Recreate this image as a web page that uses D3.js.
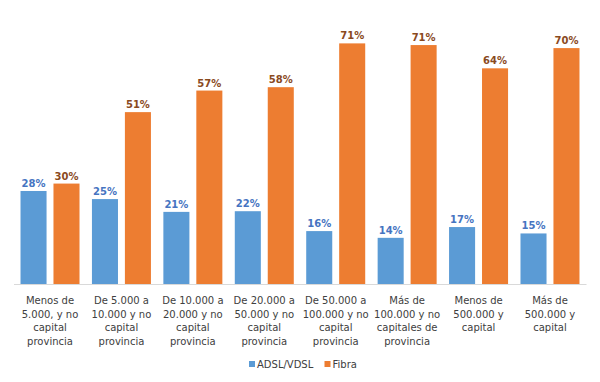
<!DOCTYPE html>
<html>
<head>
<meta charset="utf-8">
<script src="https://cdn.jsdelivr.net/npm/d3@7"></script>
<style>
  html, body { margin: 0; padding: 0; background: #ffffff; }
  svg { display: block; }
</style>
</head>
<body>
<svg id="chart" width="600" height="382"></svg>
<script>
// ---- Data ----
const categories = [
  ["Menos de", "5.000, y no", "capital", "provincia"],
  ["De 5.000 a", "10.000 y no", "capital", "provincia"],
  ["De 10.000 a", "20.000 y no", "capital", "provincia"],
  ["De 20.000 a", "50.000 y no", "capital", "provincia"],
  ["De 50.000 a", "100.000 y no", "capital", "provincia"],
  ["Más de", "100.000 y no", "capitales de", "provincia"],
  ["Menos de", "500.000 y", "capital"],
  ["Más de", "500.000 y", "capital"]
];
const seriesNames = ["ADSL/VDSL", "Fibra"];
const adslValues  = [27.6, 25.2, 21.4, 21.6, 15.7, 13.7, 16.9, 15.0];
const fibraValues = [29.8, 51.0, 57.4, 58.4, 71.4, 70.9, 64.0, 70.0];
const barColors   = ["#5B9BD5", "#ED7D31"];
const labelColors = ["#4674C1", "#8A4A1E"];

// ---- Layout ----
const svg = d3.select("#chart");
const baseline = 284;
const keys = categories.map((c, i) => "c" + i);

const x0 = d3.scaleBand().domain(keys).range([14.3, 585.7])
  .paddingInner(0.174).paddingOuter(0.087);
const x1 = d3.scaleBand().domain(seriesNames).range([0, x0.bandwidth()])
  .paddingInner(0.21).paddingOuter(0);
const y = d3.scaleLinear().domain([0, 80]).range([baseline, baseline - 80 * 3.37]);

const seriesData = [adslValues, fibraValues];
const fmt = v => d3.format(".0f")(v) + "%";

// bars
seriesNames.forEach((s, si) => {
  const g = svg.append("g");
  g.selectAll("rect").data(seriesData[si]).join("rect")
    .attr("x", (d, i) => x0(keys[i]) + x1(s))
    .attr("y", d => y(d))
    .attr("width", x1.bandwidth())
    .attr("height", d => y(0) - y(d))
    .attr("fill", barColors[si]);
  g.selectAll("text").data(seriesData[si]).join("text")
    .attr("x", (d, i) => x0(keys[i]) + x1(s) + x1.bandwidth() / 2)
    .attr("y", d => y(d) - 4)
    .attr("text-anchor", "middle")
    .attr("font-family", "DejaVu Sans, Verdana, sans-serif")
    .attr("font-size", "10px")
    .attr("font-weight", "bold")
    .attr("fill", labelColors[si])
    .text(d => fmt(d));
});

// axis line
const xAxis = d3.axisBottom(x0).tickSize(0).tickFormat("");
const axG = svg.append("g").attr("transform", `translate(0,${baseline})`).call(xAxis);
axG.select(".domain").attr("stroke", "#D9D9D9").attr("stroke-width", 1)
  .attr("d", `M14,0.5H586.5`);

// category labels
const catG = svg.append("g");
categories.forEach((lines, i) => {
  const t = catG.append("text")
    .attr("x", x0(keys[i]) + x0.bandwidth() / 2)
    .attr("y", 304)
    .attr("text-anchor", "middle")
    .attr("font-family", "DejaVu Sans, Verdana, sans-serif")
    .attr("font-size", "10px")
    .attr("fill", "#404040");
  lines.forEach((ln, li) => {
    t.append("tspan")
      .attr("x", x0(keys[i]) + x0.bandwidth() / 2)
      .attr("dy", li === 0 ? 0 : 13.6)
      .text(ln);
  });
});

// legend
const legend = svg.append("g").attr("font-family", "DejaVu Sans, Verdana, sans-serif")
  .attr("font-size", "10px").attr("fill", "#404040");
const legendX = [249, 324.5];
seriesNames.forEach((s, si) => {
  legend.append("rect").attr("x", legendX[si]).attr("y", 361).attr("width", 6).attr("height", 6)
    .attr("fill", barColors[si]);
  legend.append("text").attr("x", legendX[si] + 8).attr("y", 368).text(s);
});
</script>
</body>
</html>
